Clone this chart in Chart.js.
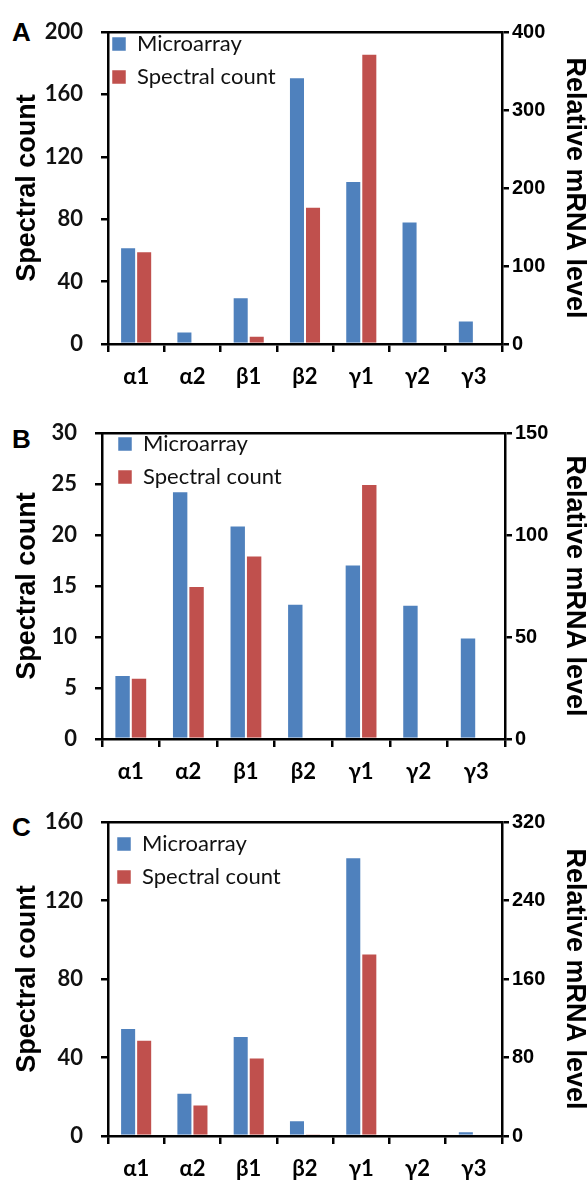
<!DOCTYPE html>
<html>
<head>
<meta charset="utf-8">
<script src="https://cdn.jsdelivr.net/npm/chart.js@4.4.1/dist/chart.umd.min.js"></script>
<style>
  body { margin: 0; background: #fff; width: 588px; height: 1181px; position: relative; overflow: hidden; }
  canvas { position: absolute; left: 0; }
  .letter { position: absolute; left: 12px; font: bold 26px "Liberation Sans", Arial, sans-serif; line-height: 1; color: #000; }
</style>
</head>
<body>
<div class="letter" style="top:19px">A</div>
<div class="letter" style="top:426px">B</div>
<div class="letter" style="top:814px">C</div>
<canvas id="panelA" width="588" height="392" style="top:0px"></canvas>
<canvas id="panelB" width="588" height="392" style="top:395px"></canvas>
<canvas id="panelC" width="588" height="392" style="top:789px"></canvas>
<script>
const genes = ["α1", "α2", "β1", "β2", "γ1", "γ2", "γ3"]

// panel A
const microA = [124, 16, 60, 342, 209, 157, 30]
const spectralA = [59.5, 0, 5.3, 88, 186, 0, 0]
const leftAxisA = [0, 200, 40]   // min, max, step
const rightAxisA = [0, 400, 100]

// panel B
const microB = [31.4, 121.4, 104.6, 66.3, 85.5, 65.8, 49.8]
const spectralB = [6, 15, 18, 0, 25, 0, 0]
const leftAxisB = [0, 30, 5]
const rightAxisB = [0, 150, 50]

// panel C
const microC = [110, 44, 102, 16, 284, 0, 4.8]
const spectralC = [49, 16, 40, 1, 93, 0, 0]
const leftAxisC = [0, 160, 40]
const rightAxisC = [0, 320, 80]

const blue = "#4F81BD"
const red = "#C0504D"
const axisWidth = 2.5
const legendPad = 11

// vertical legends get top = 0 in chartArea mode, so move the box back inside the plot
const legendInside = {
    id: "legendInside",
    afterLayout(chart) {
        const off = chart.options.plugins.legendInside
        const l = chart.legend
        const a = chart.chartArea
        l.left = a.left + off.dx
        l.top = a.top + off.dy
        l.bottom = a.bottom
    },
}

function buildPanel(id, micro, spectral, leftAxis, rightAxis, box) {
    new Chart(document.getElementById(id), {
        type: "bar",
        plugins: [legendInside],
        data: {
            labels: genes,
            datasets: [
                {
                    label: "Microarray",
                    data: micro,
                    yAxisID: "yR",
                    backgroundColor: blue,
                    borderColor: "rgba(255,255,255,0.5)",
                    borderWidth: 1,
                },
                {
                    label: "Spectral count",
                    data: spectral,
                    yAxisID: "yL",
                    backgroundColor: red,
                    borderColor: "rgba(255,255,255,0.5)",
                    borderWidth: 1,
                },
            ],
        },
        options: {
            responsive: false,
            animation: false,
            layout: { padding: 0 },
            datasets: { bar: { categoryPercentage: 0.57, barPercentage: 1 } },
            plugins: {
                tooltip: { enabled: false },
                legendInside: { dx: box.legendX - legendPad, dy: box.legendY - legendPad - 4 },
                legend: {
                    position: "chartArea",
                    align: "start",
                    labels: {
                        boxWidth: 14,
                        boxHeight: 14,
                        padding: legendPad,
                        color: "#111",
                        font: { family: "Lato", size: 22 },
                    },
                },
            },
            scales: {
                x: {
                    position: "bottom",
                    afterFit: (s) => { s.height = box.bottom },
                    grid: {
                        display: true,
                        drawOnChartArea: false,
                        drawTicks: true,
                        tickLength: 8,
                        color: "#000",
                        lineWidth: axisWidth,
                        offset: true,
                    },
                    border: { display: true, color: "#000", width: axisWidth },
                    ticks: {
                        color: "#000",
                        padding: 12,
                        maxRotation: 0,
                        autoSkip: false,
                        font: { family: "Lato, 'Noto Sans'", size: 22, weight: "bold" },
                    },
                },
                xTop: {
                    type: "category",
                    position: "top",
                    afterFit: (s) => { s.height = box.top },
                    grid: { display: false },
                    ticks: { display: false },
                    border: { display: true, color: "#000", width: axisWidth },
                },
                yL: {
                    position: "left",
                    min: leftAxis[0],
                    max: leftAxis[1],
                    afterFit: (s) => { s.width = box.left },
                    grid: {
                        display: true,
                        drawOnChartArea: false,
                        drawTicks: true,
                        tickLength: 7,
                        color: "#000",
                        lineWidth: axisWidth,
                    },
                    border: { display: true, color: "#000", width: axisWidth },
                    ticks: {
                        stepSize: leftAxis[2],
                        color: "#111",
                        padding: 18,
                        font: { family: "Lato", size: 22, weight: "bold" },
                    },
                    title: {
                        display: true,
                        text: "Spectral count",
                        color: "#000",
                        padding: { top: 14, bottom: 0 },
                        font: { family: "Liberation Sans", size: 27, weight: "bold", lineHeight: 1 },
                    },
                },
                yR: {
                    position: "right",
                    min: rightAxis[0],
                    max: rightAxis[1],
                    afterFit: (s) => { s.width = box.right },
                    grid: {
                        display: true,
                        drawOnChartArea: false,
                        drawTicks: true,
                        tickLength: 7,
                        color: "#000",
                        lineWidth: axisWidth,
                    },
                    border: { display: true, color: "#000", width: axisWidth },
                    ticks: {
                        stepSize: rightAxis[2],
                        color: "#000",
                        padding: 3,
                        font: { family: "Liberation Sans", size: 20, weight: "bold" },
                    },
                    title: {
                        display: true,
                        text: "Relative mRNA level",
                        color: "#000",
                        padding: { top: 0, bottom: 0 },
                        font: { family: "Liberation Sans", size: 27, weight: "bold", lineHeight: 1 },
                    },
                },
            },
        },
    })
}

buildPanel("panelA", microA, spectralA, leftAxisA, rightAxisA, { left: 108, right: 86, top: 32, bottom: 48, legendX: 4, legendY: 5 })
buildPanel("panelB", microB, spectralB, leftAxisB, rightAxisB, { left: 102, right: 83, top: 38, bottom: 48, legendX: 16, legendY: 4 })
buildPanel("panelC", microC, spectralC, leftAxisC, rightAxisC, { left: 108, right: 86, top: 33, bottom: 45, legendX: 9, legendY: 15 })
</script>
</body>
</html>
